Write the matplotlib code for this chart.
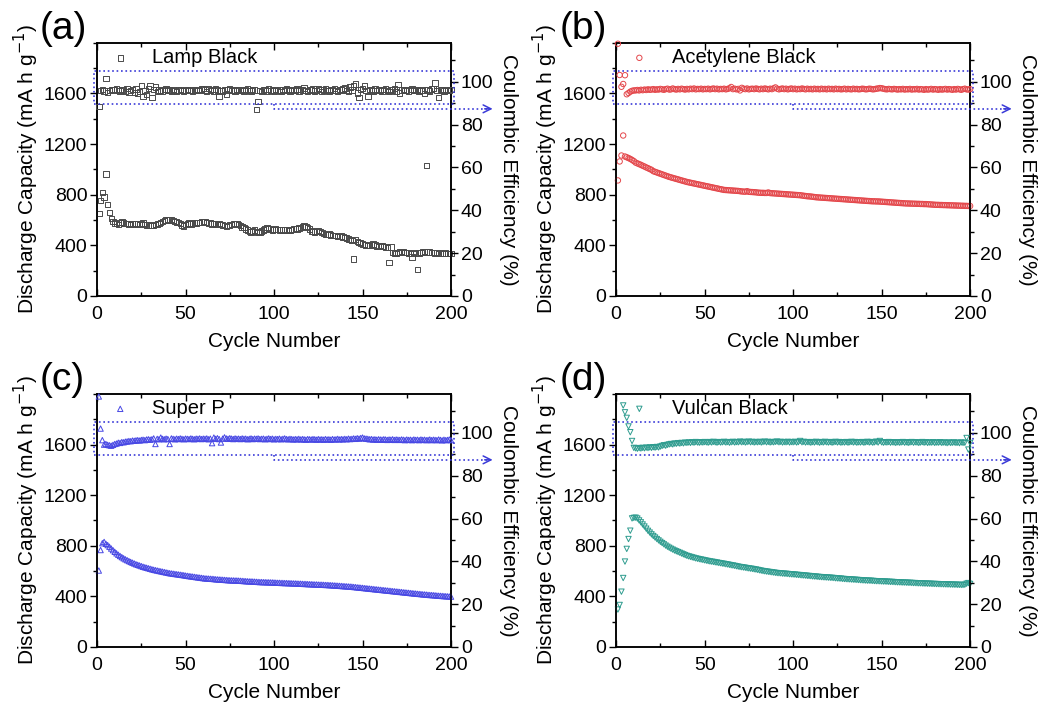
import numpy as np
import matplotlib.pyplot as plt
from matplotlib.patches import Rectangle
from matplotlib.ticker import MultipleLocator

plt.rcParams['font.family'] = ['Liberation Sans', 'DejaVu Sans']

cycles = np.arange(1, 201)

# discharge capacity (mA h g-1) per cycle
lamp_cap = [
    651, 756, 816, 782, 963, 722, 661, 611, 590, 578,
    572, 566, 580, 585, 576, 572, 574, 570, 566, 572,
    568, 574, 570, 566, 572, 578, 566, 560, 562, 558,
    556, 562, 566, 570, 574, 580, 590, 596, 600, 606,
    600, 604, 596, 590, 586, 580, 572, 562, 552, 566,
    572, 576, 570, 574, 578, 576, 580, 582, 586, 590,
    584, 580, 576, 578, 570, 574, 568, 566, 572, 566,
    560, 556, 550, 558, 562, 566, 570, 572, 568, 566,
    556, 546, 540, 528, 520, 510, 506, 514, 522, 510,
    500, 506, 512, 520, 530, 540, 534, 528, 522, 526,
    530, 524, 520, 526, 522, 520, 524, 518, 522, 526,
    530, 534, 530, 536, 540, 546, 552, 550, 540, 528,
    514, 510, 506, 512, 518, 510, 500, 494, 488, 484,
    490, 482, 478, 476, 480, 472, 468, 474, 466, 462,
    458, 450, 446, 440, 291, 448, 432, 424, 418, 412,
    408, 402, 398, 400, 406, 410, 404, 396, 392, 398,
    394, 390, 386, 382, 262, 388, 342, 340, 338, 344,
    348, 350, 346, 342, 344, 340, 336, 307, 342, 338,
    210, 340, 344, 346, 350, 1031, 348, 346, 344, 342,
    340, 342, 338, 340, 338, 336, 340, 338, 336, 338,
]
acetylene_cap = [
    913, 1063, 1110, 1268, 1102, 1096, 1090, 1083, 1075, 1066,
    1054, 1048, 1042, 1036, 1029, 1023, 1016, 1010, 1003, 997,
    986, 981, 976, 971, 966, 961, 956, 951, 946, 941,
    937, 933, 929, 925, 921, 917, 913, 909, 905, 901,
    898, 895, 892, 889, 886, 883, 880, 877, 874, 871,
    868, 865, 862, 859, 856, 853, 850, 847, 844, 841,
    838, 837, 836, 835, 834, 833, 832, 831, 830, 828,
    826, 825, 824, 828, 823, 822, 821, 820, 819, 817,
    816, 815, 815, 814, 814, 818, 813, 812, 811, 810,
    809, 808, 807, 806, 805, 804, 803, 802, 801, 800,
    799, 798, 797, 796, 794, 792, 790, 788, 787, 786,
    784, 782, 780, 779, 778, 777, 776, 775, 774, 773,
    772, 771, 770, 769, 768, 767, 766, 765, 764, 763,
    762, 761, 760, 759, 758, 757, 756, 755, 754, 753,
    752, 751, 750, 749, 748, 748, 747, 747, 746, 745,
    744, 743, 742, 741, 740, 739, 738, 737, 736, 735,
    734, 733, 732, 731, 731, 730, 730, 729, 729, 728,
    728, 727, 727, 726, 726, 725, 724, 723, 722, 721,
    720, 720, 719, 719, 718, 718, 717, 717, 716, 716,
    715, 715, 714, 714, 713, 713, 712, 712, 711, 711,
]
superp_cap = [
    604, 766, 820, 830, 815, 805, 792, 778, 765, 752,
    740, 729, 719, 710, 701, 693, 686, 679, 672, 666,
    660, 654, 649, 644, 639, 634, 630, 626, 622, 618,
    614, 610, 607, 604, 601, 598, 595, 592, 589, 586,
    583, 581, 579, 577, 575, 573, 571, 569, 567, 564,
    562, 560, 558, 556, 554, 552, 550, 548, 546, 544,
    542, 541, 540, 539, 538, 537, 535, 534, 533, 532,
    531, 530, 529, 528, 527, 526, 526, 525, 525, 524,
    523, 522, 521, 520, 519, 518, 518, 517, 516, 515,
    514, 513, 513, 512, 512, 511, 511, 510, 510, 509,
    508, 507, 507, 506, 506, 505, 505, 504, 504, 503,
    502, 502, 501, 500, 500, 499, 498, 498, 497, 496,
    496, 495, 494, 494, 493, 492, 492, 491, 490, 490,
    489, 488, 487, 486, 485, 484, 483, 482, 481, 480,
    479, 478, 477, 476, 474, 473, 471, 470, 468, 467,
    465, 464, 462, 461, 459, 458, 456, 455, 453, 452,
    450, 449, 447, 446, 444, 443, 441, 440, 438, 437,
    435, 434, 432, 431, 429, 428, 426, 425, 423, 422,
    420, 419, 418, 416, 415, 414, 412, 411, 410, 409,
    408, 406, 405, 404, 403, 402, 401, 400, 399, 398,
]
vulcan_cap = [
    296, 332, 437, 545, 675, 775, 853, 919, 1016, 1020,
    1022, 1015, 1000, 985, 968, 952, 935, 918, 904, 890,
    877, 865, 853, 842, 831, 821, 811, 801, 792, 784,
    776, 769, 762, 756, 750, 744, 738, 732, 726, 720,
    716, 712, 708, 704, 700, 697, 694, 691, 688, 685,
    682, 679, 676, 674, 672, 669, 667, 664, 662, 659,
    657, 654, 652, 649, 646, 644, 641, 638, 635, 632,
    630, 628, 626, 623, 621, 619, 617, 614, 612, 609,
    606, 603, 600, 598, 596, 594, 592, 590, 588, 586,
    584, 583, 582, 580, 579, 578, 577, 575, 574, 573,
    572, 570, 569, 568, 566, 565, 564, 562, 561, 560,
    558, 557, 556, 554, 553, 552, 551, 550, 549, 548,
    547, 546, 545, 543, 542, 541, 540, 538, 537, 536,
    535, 534, 533, 532, 531, 530, 529, 528, 527, 526,
    525, 524, 524, 523, 522, 521, 520, 520, 519, 518,
    517, 517, 516, 515, 514, 514, 513, 512, 511, 511,
    510, 509, 509, 508, 507, 507, 506, 505, 505, 504,
    503, 503, 502, 501, 501, 500, 500, 499, 498, 498,
    497, 497, 496, 496, 495, 495, 494, 494, 493, 493,
    492, 492, 491, 491, 490, 490, 492, 500, 505, 498,
]

# coulombic efficiency (%) per cycle
lamp_ce = [
    88.6, 96.0, 96.5, 95.8, 101.7, 95.0, 96.0, 96.3, 96.5, 96.2,
    96.6, 96.0, 95.8, 96.4, 96.2, 95.5, 96.8, 95.2, 96.0, 96.4,
    95.0, 96.6, 94.8, 95.6, 98.4, 93.2, 96.0, 94.0, 97.0, 98.0,
    92.8, 96.5, 97.6, 95.4, 96.2, 96.0, 95.8, 96.4, 96.6, 96.0,
    96.2, 95.8, 96.4, 96.0, 95.6, 96.2, 96.4, 96.0, 95.8, 96.2,
    96.4, 96.0, 96.2, 95.8, 96.2, 96.0, 96.4, 96.0, 96.6, 97.0,
    96.2, 95.6, 96.8, 96.0, 96.4, 95.8, 96.6, 96.2, 93.2, 96.0,
    95.8, 96.4, 94.4, 96.2, 96.6, 96.0, 96.2, 95.8, 96.4, 96.2,
    96.0, 96.4, 95.8, 96.2, 96.6, 96.0, 95.8, 96.4, 96.2, 87.1,
    90.8, 96.0, 95.6, 96.2, 96.4, 95.8, 96.6, 96.0, 96.2, 95.8,
    96.4, 96.0, 96.2, 95.6, 96.4, 96.0, 96.6, 96.2, 95.8, 96.4,
    96.0, 96.2, 96.6, 95.8, 96.4, 96.2, 97.2, 96.0, 95.6, 96.4,
    96.2, 96.6, 95.8, 96.0, 96.8, 96.4, 95.6, 96.2, 96.6, 96.0,
    95.8, 96.4, 96.2, 96.8, 96.0, 95.6, 96.4, 96.2, 96.6, 97.2,
    96.0, 95.4, 97.6, 96.2, 98.0, 99.0, 94.8, 92.6, 96.4, 97.0,
    98.0, 96.0, 93.2, 96.4, 96.2, 95.8, 96.6, 96.0, 96.4, 96.2,
    95.8, 96.4, 96.6, 96.0, 95.6, 96.4, 96.2, 97.0, 95.6, 98.8,
    94.8, 96.2, 96.4, 96.0, 96.2, 95.8, 96.4, 96.6, 96.0, 96.2,
    96.4, 95.8, 96.2, 96.0, 94.6, 96.4, 96.2, 95.8, 96.6, 97.0,
    99.5, 96.0, 92.6, 96.4, 96.2, 95.8, 96.4, 96.0, 96.2, 96.4,
]
acetylene_ce = [
    117.8, 103.2, 97.7, 99.0, 103.1, 94.2, 94.8, 95.4, 95.8, 96.0,
    96.0, 96.2, 96.0, 96.3, 96.1, 96.4, 96.2, 96.5, 96.3, 96.4,
    96.6, 96.3, 96.5, 96.4, 96.7, 96.5, 96.3, 96.6, 96.8, 96.4,
    96.5, 96.9, 96.6, 96.4, 96.7, 96.5, 96.8, 96.6, 96.4, 96.7,
    96.5, 96.8, 96.6, 96.9, 96.5, 96.7, 96.6, 96.8, 96.5, 96.7,
    96.6, 96.8, 96.5, 96.7, 96.9, 96.6, 96.8, 96.5, 96.7, 96.6,
    96.8, 96.5, 96.7, 97.0, 97.6, 96.6, 96.8, 96.5, 96.7, 96.0,
    97.2, 96.8, 96.6, 96.9, 96.5, 96.7, 96.8, 96.6, 96.9, 96.7,
    96.5, 96.8, 96.6, 96.9, 96.7, 96.5, 96.8, 96.6, 97.0, 97.4,
    96.8, 96.5, 96.7, 96.9, 96.6, 96.8, 96.5, 96.7, 96.9, 96.6,
    96.8, 96.5, 96.7, 96.6, 96.9, 96.7, 96.5, 96.8, 96.6, 96.7,
    96.5, 96.8, 96.6, 96.7, 96.5, 96.8, 96.6, 96.7, 96.5, 96.8,
    96.6, 96.7, 96.5, 96.8, 96.6, 96.7, 96.5, 96.6, 96.8, 96.5,
    96.7, 96.6, 96.5, 96.8, 96.6, 96.7, 96.5, 96.6, 96.8, 96.7,
    96.5, 96.6, 96.8, 96.7, 96.5, 96.6, 96.8, 96.9, 97.1, 97.0,
    96.8, 96.6, 96.5, 96.7, 96.6, 96.5, 96.7, 96.6, 96.4, 96.6,
    96.5, 96.7, 96.4, 96.6, 96.5, 96.7, 96.4, 96.6, 96.5, 96.7,
    96.4, 96.6, 96.5, 96.3, 96.6, 96.4, 96.5, 96.7, 96.4, 96.6,
    96.5, 96.3, 96.6, 96.4, 96.5, 96.7, 96.4, 96.6, 96.5, 96.3,
    96.6, 96.4, 96.7, 96.5, 96.3, 96.6, 96.8, 96.5, 96.4, 96.6,
]
superp_ce = [
    117.0, 102.0, 96.6, 94.5, 94.8, 94.4, 94.2, 94.0, 94.4, 94.8,
    95.0, 95.4, 95.3, 95.7, 95.6, 95.9, 96.0, 96.2, 96.1, 96.4,
    96.3, 96.5, 96.6, 96.4, 96.7, 96.8, 96.6, 96.9, 97.0, 96.8,
    97.0, 97.4, 94.8, 97.2, 97.0, 97.8, 97.2, 97.0, 97.3, 97.1,
    94.8, 97.4, 97.2, 97.0, 97.3, 97.1, 97.4, 97.2, 97.0, 97.3,
    97.2, 97.1, 97.4, 97.2, 97.0, 97.3, 97.2, 97.4, 97.1, 97.3,
    97.2, 97.4, 97.0, 97.3, 95.2, 97.8, 97.2, 97.5, 97.1, 95.5,
    97.3, 97.9, 97.4, 97.2, 97.5, 97.3, 97.1, 97.4, 97.2, 97.3,
    97.1, 97.4, 97.2, 97.3, 97.0, 97.2, 97.4, 97.1, 97.3, 97.2,
    97.4, 97.1, 97.2, 97.3, 97.0, 97.2, 97.4, 97.1, 97.3, 97.0,
    97.2, 97.1, 97.3, 97.0, 97.2, 97.4, 97.1, 97.0, 97.2, 97.1,
    96.9, 97.1, 97.0, 97.2, 96.9, 97.1, 97.0, 96.8, 97.1, 97.0,
    96.9, 97.1, 97.0, 96.8, 97.1, 96.9, 97.0, 96.8, 97.1, 96.9,
    97.0, 96.8, 97.1, 96.9, 97.0, 97.2, 96.9, 97.1, 97.0, 97.2,
    97.0, 97.3, 97.1, 97.2, 97.4, 97.2, 97.5, 97.3, 97.6, 97.8,
    97.4, 97.3, 97.2, 97.0, 97.1, 96.9, 97.0, 96.8, 97.0, 96.9,
    96.8, 97.0, 96.9, 96.7, 96.9, 96.8, 97.0, 96.7, 96.9, 96.8,
    96.7, 96.9, 96.8, 96.6, 96.9, 96.7, 96.8, 96.6, 96.9, 96.7,
    96.8, 96.6, 96.9, 96.7, 96.8, 96.6, 96.7, 96.9, 96.6, 96.8,
    96.7, 96.6, 96.9, 96.7, 96.5, 96.8, 96.6, 96.7, 96.9, 96.6,
]
vulcan_ce = [
    np.nan, np.nan, np.nan, 112.8, 109.6, 107.0, 103.0, 100.3, 96.2, 93.0,
    92.8, 92.6, 92.9, 92.7, 93.0, 92.8, 93.1, 92.9, 93.2, 93.0,
    93.3, 93.1, 93.4, 93.2, 93.6, 93.9, 94.2, 94.0, 94.4, 94.6,
    94.8, 94.6, 95.0, 94.9, 95.2, 95.0, 95.3, 95.1, 95.4, 95.3,
    95.5, 95.3, 95.6, 95.4, 95.7, 95.5, 95.4, 95.6, 95.5, 95.7,
    95.6, 95.4, 95.7, 95.5, 95.8, 95.6, 95.4, 95.7, 95.5, 95.6,
    95.8, 95.5, 95.7, 95.4, 95.6, 95.8, 95.5, 95.7, 95.6, 95.9,
    95.6, 95.8, 95.5, 95.7, 95.9, 95.6, 95.8, 95.5, 95.7, 95.6,
    95.8, 95.5, 95.7, 95.9, 95.6, 95.8, 95.5, 95.7, 95.6, 95.8,
    95.9, 95.6, 95.8, 95.5, 95.7, 95.6, 95.8, 95.5, 95.7, 95.6,
    95.8, 95.5, 95.7, 96.2, 95.6, 95.8, 95.5, 95.7, 95.6, 95.4,
    95.7, 95.5, 95.8, 95.6, 95.4, 95.7, 95.5, 95.8, 95.6, 95.5,
    95.7, 95.4, 95.6, 95.8, 95.5, 95.7, 95.4, 95.6, 95.5, 95.7,
    95.4, 95.6, 95.8, 95.5, 95.7, 95.4, 95.6, 95.5, 95.7, 95.4,
    95.6, 95.8, 95.5, 95.7, 95.4, 95.6, 95.9, 95.5, 96.2, 95.6,
    95.4, 95.6, 95.5, 95.7, 95.4, 95.6, 95.5, 95.3, 95.6, 95.4,
    95.5, 95.7, 95.4, 95.6, 95.3, 95.5, 95.7, 95.4, 95.6, 95.5,
    95.3, 95.5, 95.7, 95.4, 95.6, 95.3, 95.5, 95.4, 95.6, 95.3,
    95.5, 95.4, 95.6, 95.3, 95.5, 95.4, 95.2, 95.5, 95.3, 95.4,
    95.5, 95.3, 95.4, 95.2, 95.5, 95.3, 95.4, 97.6, 92.2, 95.3,
]

labels = ['Lamp Black', 'Acetylene Black', 'Super P', 'Vulcan Black']
letters = ['(a)', '(b)', '(c)', '(d)']
markers = ['s', 'o', '^', 'v']
colors = ['#4a4a4a', '#e4474b', '#4848e4', '#2e9c8f']
box_color = '#3a3ad8'


def draw_panel(ax, cap, ce, marker, color, label, letter):
    ax2 = ax.twinx()
    ax.scatter(cycles, cap, s=15, marker=marker, facecolors='none',
               edgecolors=color, linewidths=0.7, label=label, clip_on=False, zorder=3)
    ax2.scatter(cycles, ce, s=15, marker=marker, facecolors='none',
                edgecolors=color, linewidths=0.7, clip_on=False, zorder=3)

    ax.set_xlim(0, 200)
    ax.set_ylim(0, 2000)
    ax2.set_ylim(0, 118.2)
    ax.set_yticks([0, 400, 800, 1200, 1600])
    ax.yaxis.set_minor_locator(MultipleLocator(200))
    ax.xaxis.set_major_locator(MultipleLocator(50))
    ax.xaxis.set_minor_locator(MultipleLocator(25))
    ax2.set_yticks([0, 20, 40, 60, 80, 100])
    ax2.yaxis.set_minor_locator(MultipleLocator(10))

    ax.tick_params(axis='x', which='both', direction='in', top=True, labelsize=14)
    ax.tick_params(axis='x', which='major', length=5, width=1, pad=7)
    ax.tick_params(axis='x', which='minor', length=3, width=1)
    ax.tick_params(axis='y', which='major', direction='out', length=5, width=1, labelsize=14, pad=2)
    ax.tick_params(axis='y', which='minor', direction='out', length=3, width=1)
    ax2.tick_params(axis='y', which='major', direction='out', length=5, width=1, labelsize=14, pad=2)
    ax2.tick_params(axis='y', which='minor', direction='out', length=3, width=1)
    for a in (ax, ax2):
        for sp in a.spines.values():
            sp.set_linewidth(1.1)

    ax.set_xlabel('Cycle Number', fontsize=15, labelpad=7)
    ax.set_ylabel('Discharge Capacity (mA h g$^{-1}$)', fontsize=15, labelpad=2)
    ax2.set_ylabel('Coulombic Efficiency (%)', fontsize=15, rotation=270, labelpad=18)

    ax.legend(loc='upper left', bbox_to_anchor=(0.003, 1.035), frameon=False,
              fontsize=14.5, handlelength=0.8, handletextpad=1.2, borderaxespad=0.3)
    ax.text(-0.161, 0.985, letter, transform=ax.transAxes, fontsize=28,
            ha='left', va='bottom')

    # dotted frame around the efficiency data, pointing to the right axis
    ax2.add_patch(Rectangle((-1.9, 89.6), 203.7, 15.7, fill=False, ls=':',
                            lw=1.2, edgecolor=box_color, clip_on=False, zorder=4))
    ax2.plot([100, 100, 221], [89.6, 87.4, 87.4], ls=':', lw=1.2,
             color=box_color, clip_on=False, zorder=4)
    ax2.annotate('', xy=(223.5, 87.4), xytext=(219, 87.4), annotation_clip=False,
                 arrowprops=dict(arrowstyle='->', color=box_color, lw=1.1,
                                 mutation_scale=14, shrinkA=0, shrinkB=0))


fig = plt.figure(figsize=(10.39, 7.03), dpi=100)
positions = [
    [0.0934, 0.579, 0.3407, 0.360],
    [0.593, 0.579, 0.3407, 0.360],
    [0.0934, 0.0797, 0.3407, 0.360],
    [0.593, 0.0797, 0.3407, 0.360],
]
caps = [lamp_cap, acetylene_cap, superp_cap, vulcan_cap]
ces = [lamp_ce, acetylene_ce, superp_ce, vulcan_ce]

for i in range(4):
    ax = fig.add_axes(positions[i])
    draw_panel(ax, caps[i], ces[i], markers[i], colors[i], labels[i], letters[i])

fig.savefig('out.png', dpi=100)
